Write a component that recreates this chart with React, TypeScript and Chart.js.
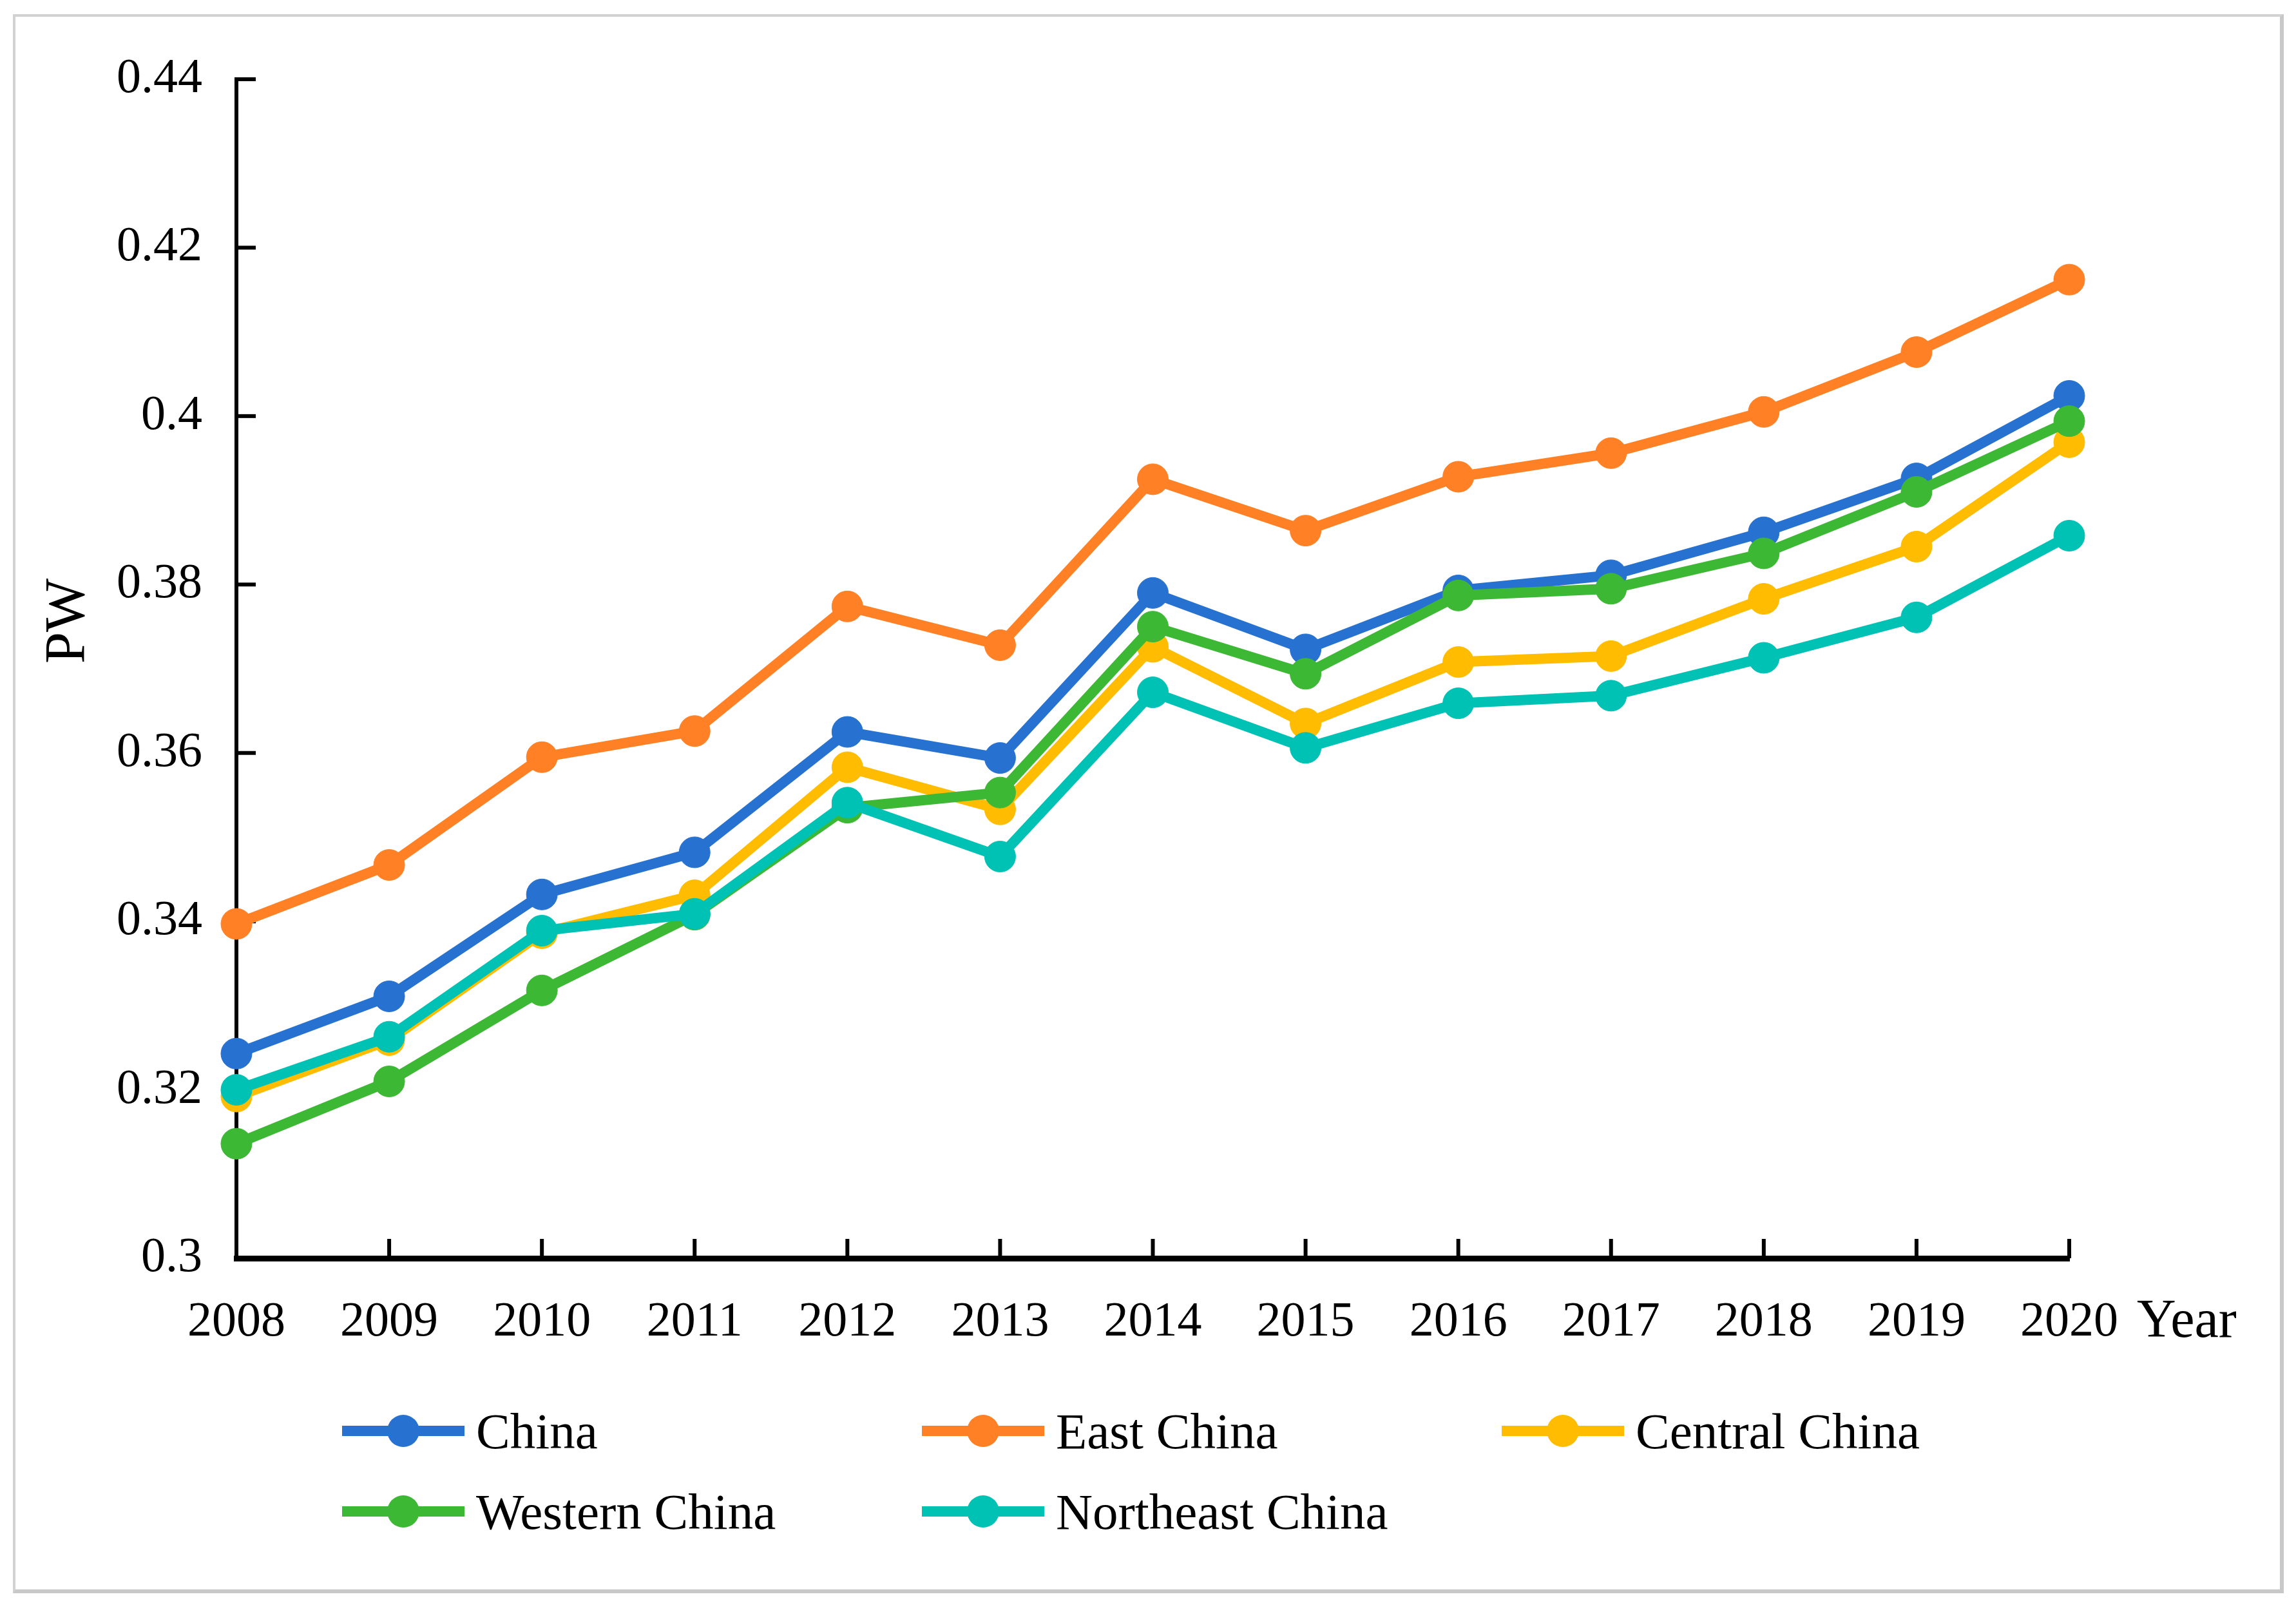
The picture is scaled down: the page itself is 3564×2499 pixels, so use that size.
import React, { useEffect, useRef } from "react";
import { Chart, registerables } from "chart.js";

Chart.register(...registerables);

const years = ["2008", "2009", "2010", "2011", "2012", "2013", "2014", "2015", "2016", "2017", "2018", "2019", "2020"];
const seriesNames = ["China", "East China", "Central China", "Western China", "Northeast China"];
const chinaValues = [0.3243, 0.3311, 0.3432, 0.3482, 0.3625, 0.3594, 0.379, 0.3723, 0.3793, 0.3811, 0.3862, 0.3926, 0.4024];
const eastValues = [0.3397, 0.3467, 0.3595, 0.3626, 0.3774, 0.3728, 0.3925, 0.3864, 0.3928, 0.3956, 0.4005, 0.4076, 0.4162];
const centralValues = [0.3192, 0.3259, 0.3386, 0.3431, 0.3583, 0.3533, 0.3726, 0.3635, 0.3708, 0.3715, 0.3783, 0.3845, 0.3969];
const westernValues = [0.3136, 0.321, 0.3318, 0.3408, 0.3535, 0.3553, 0.375, 0.3694, 0.3787, 0.3795, 0.3837, 0.391, 0.3994];
const northeastValues = [0.32, 0.3263, 0.3389, 0.3409, 0.3541, 0.3477, 0.3672, 0.3606, 0.3659, 0.3668, 0.3713, 0.3761, 0.3858];
const seriesColors = ["#2772D0", "#FF8025", "#FFBC00", "#3DB834", "#00C2B4"];
const yMin = 0.3;
const yMax = 0.44;
const yStep = 0.02;
const yTitle = "PW";
const xTitle = "Year";

const FONT = '"Liberation Serif", "Times New Roman", serif';

const decorPlugin = {
  id: "decor",
  beforeDatasetsDraw(chart: any) {
    const ctx = chart.ctx;
    const xs = chart.scales.x;
    const ys = chart.scales.y;
    const ca = chart.chartArea;
    ctx.save();
    ctx.strokeStyle = "#000";
    ctx.lineWidth = 6;
    ys.ticks.forEach((_t: any, i: number) => {
      const py = ys.getPixelForTick(i);
      ctx.beginPath();
      ctx.moveTo(ca.left, py);
      ctx.lineTo(ca.left + 30, py);
      ctx.stroke();
    });
    xs.ticks.forEach((_t: any, i: number) => {
      const px = xs.getPixelForTick(i);
      ctx.beginPath();
      ctx.moveTo(px, ca.bottom);
      ctx.lineTo(px, ca.bottom - 30);
      ctx.stroke();
    });
    ctx.restore();
  },
  afterDraw(chart: any) {
    const ctx = chart.ctx;
    ctx.save();
    ctx.fillStyle = "#000";
    // y title
    ctx.save();
    ctx.translate(130, 964);
    ctx.rotate(-Math.PI / 2);
    ctx.font = `88px ${FONT}`;
    ctx.textAlign = "center";
    ctx.textBaseline = "alphabetic";
    ctx.fillText(yTitle, 0, 0);
    ctx.restore();
    // x title
    ctx.font = `84px ${FONT}`;
    ctx.textAlign = "left";
    ctx.textBaseline = "alphabetic";
    ctx.fillText(xTitle, 3317, 2075);
    // legend
    const datasets = chart.data.datasets;
    datasets.forEach((ds: any, i: number) => {
      const col = i % 3;
      const row = Math.floor(i / 3);
      const start = 531 + col * 900;
      const cy = 2221 + row * 125;
      ctx.strokeStyle = ds.borderColor;
      ctx.lineWidth = 16;
      ctx.lineCap = "butt";
      ctx.beginPath();
      ctx.moveTo(start, cy);
      ctx.lineTo(start + 190, cy);
      ctx.stroke();
      ctx.fillStyle = ds.borderColor;
      ctx.beginPath();
      ctx.arc(start + 95, cy, 25, 0, Math.PI * 2);
      ctx.fill();
      ctx.fillStyle = "#000";
      ctx.font = `79px ${FONT}`;
      ctx.textAlign = "left";
      ctx.textBaseline = "alphabetic";
      ctx.fillText(ds.label, start + 208, cy + 27);
    });
    ctx.restore();
  },
};

export default function App() {
  const canvasRef = useRef<HTMLCanvasElement | null>(null);

  useEffect(() => {
    const canvas = canvasRef.current;
    if (!canvas) return;
    const values = [chinaValues, eastValues, centralValues, westernValues, northeastValues];
    const chart = new Chart(canvas, {
      type: "line",
      data: {
        labels: years,
        datasets: seriesNames.map((name, i) => ({
          label: name,
          data: values[i],
          borderColor: seriesColors[i],
          backgroundColor: seriesColors[i],
          pointBackgroundColor: seriesColors[i],
          pointBorderColor: seriesColors[i],
          borderWidth: 16,
          pointRadius: 24,
          pointBorderWidth: 1,
          tension: 0,
          fill: false,
          clip: false as any,
          order: seriesNames.length - i,
        })),
      },
      options: {
        animation: false,
        responsive: false,
        devicePixelRatio: 1,
        layout: { padding: { top: 123, right: 352, left: 0, bottom: 0 } },
        plugins: {
          legend: { display: false },
          tooltip: { enabled: false },
          title: { display: false },
        },
        scales: {
          x: {
            type: "category",
            offset: false,
            grid: { display: false, drawTicks: false },
            border: { display: true, color: "#000", width: 9 },
            ticks: {
              color: "#000",
              font: { family: FONT, size: 76 },
              padding: 54,
              maxRotation: 0,
              autoSkip: false,
            },
            afterFit: (scale: any) => {
              scale.height = 546;
            },
          },
          y: {
            min: yMin,
            max: yMax,
            grid: { display: false, drawTicks: false },
            border: { display: true, color: "#000", width: 6 },
            ticks: {
              stepSize: yStep,
              color: "#000",
              font: { family: FONT, size: 76 },
              padding: 53,
              callback: (value: any) => String(parseFloat(Number(value).toFixed(2))),
            },
            afterFit: (scale: any) => {
              scale.width = 367;
            },
          },
        },
      },
      plugins: [decorPlugin],
    });
    return () => chart.destroy();
  }, []);

  return (
    <div style={{ position: "absolute", left: 0, top: 0, width: 3564, height: 2499, background: "#fff" }}>
      <canvas
        ref={canvasRef}
        width={3564}
        height={2499}
        style={{ position: "absolute", left: 0, top: 0, width: 3564, height: 2499 }}
      />
      <div
        style={{
          position: "absolute",
          left: 20,
          top: 22,
          width: 3525,
          height: 2451,
          boxSizing: "border-box",
          borderTop: "4px solid #d2d2d2",
          borderLeft: "4px solid #d2d2d2",
          borderRight: "6px solid #c8c8c8",
          borderBottom: "6px solid #c8c8c8",
          pointerEvents: "none",
        }}
      />
    </div>
  );
}
